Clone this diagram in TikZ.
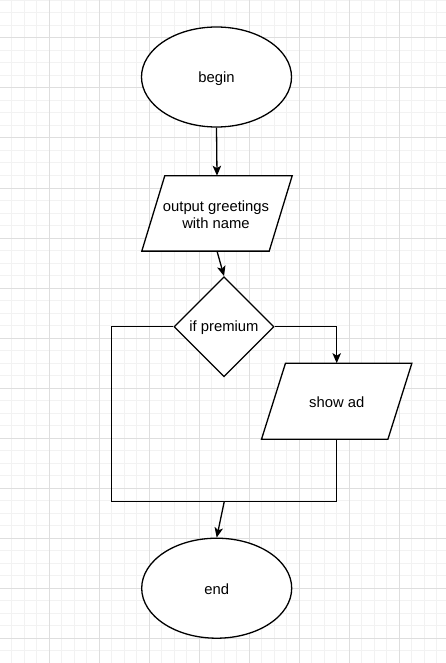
\documentclass[tikz,border=0pt]{standalone}
\usepackage{fontspec}
\setmainfont{Liberation Sans}
\usetikzlibrary{shapes.geometric,arrows.meta}
\begin{document}
\begin{tikzpicture}[x=1pt,y=-1pt,
  minorgrid/.style={draw=black!5,line width=1pt},
  majorgrid/.style={draw=black!13,line width=1pt},
  shp/.style={draw=black,line width=1.3pt,fill=white,inner sep=0pt,font=\fontsize{14.8pt}{17pt}\selectfont,align=center},
  term/.style={shp,ellipse,minimum width=150pt,minimum height=100pt},
  dec/.style={shp,diamond,minimum width=100pt,minimum height=100pt},
  iobox/.style={inner sep=0pt,minimum width=150pt,minimum height=75pt,font=\fontsize{14.8pt}{17pt}\selectfont,align=center},
  lbl/.style={inner sep=0pt,font=\fontsize{14.8pt}{17pt}\selectfont,align=center},
  outline/.style={draw=black,line width=1.3pt,fill=white,line join=miter},
  conn/.style={draw=black,line width=1.3pt},
  arr/.style={conn,-{Stealth[length=10pt,width=8.5pt,inset=2.5pt]}}]
\fill[white] (0,0) rectangle (446,663);
\useasboundingbox (0,0) rectangle (446,663);
% grid
\foreach \i in {0,...,34} \draw[minorgrid] ({11.8+12.5*\i},0) -- ++(0,663);
\foreach \j in {0,...,52} \draw[minorgrid] (0,{0.5+12.5*\j}) -- ++(446,0);
\foreach \i in {0,...,7} \draw[majorgrid] ({49.3+50*\i},0) -- ++(0,663);
\foreach \j in {0,...,12} \draw[majorgrid] (0,{38+50*\j}) -- ++(446,0);
% nodes
\node[term] (begin) at (216.5,77) {};
\node[lbl] at (216.5,78.5) {begin};
\node[iobox] (p1) at (217,213.4) {};
\draw[outline] ([xshift=23pt]p1.north west) -- (p1.north east) -- ([xshift=-23pt]p1.south east) -- (p1.south west) -- cycle;
\node[lbl] at (216,214.5) {output greetings\\with name};
\node[dec] (dia) at (224,326.7) {};
\node[lbl] at (224,328) {if premium};
\node[iobox,minimum height=75.7pt] (p2) at (336.7,401.2) {};
\draw[outline] ([xshift=24pt]p2.north west) -- (p2.north east) -- ([xshift=-24pt]p2.south east) -- (p2.south west) -- cycle;
\node[lbl] at (336.7,402.5) {show ad};
\node[term] (end) at (216.7,588.2) {};
\node[lbl] at (216.7,589.5) {end};
\coordinate (lc) at (111.7,501.3);
\coordinate (m) at (224.3,501.3);
% connectors
\draw[arr] (begin.south) -- (p1.north);
\draw[arr] (p1.south) -- (dia.north);
\draw[arr] (dia.east) -| (p2.north);
\draw[conn] (p2.south) |- (lc) |- (dia.west);
\draw[arr] (m) -- (end.north);
\end{tikzpicture}
\end{document}
